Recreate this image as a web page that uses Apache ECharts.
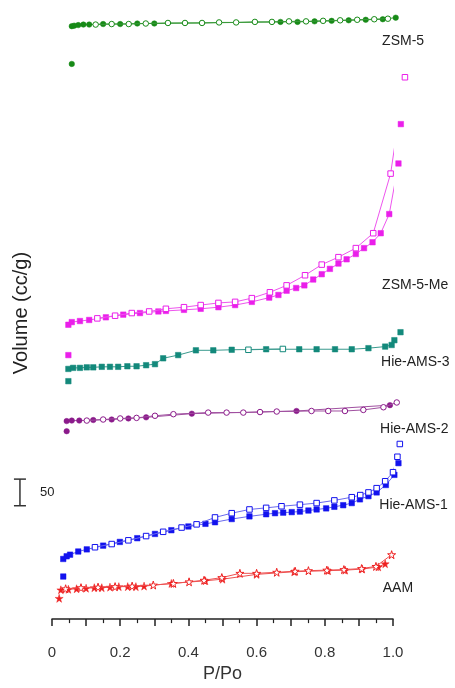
<!DOCTYPE html>
<html>
<head>
<meta charset="utf-8">
<script src="https://cdn.jsdelivr.net/npm/echarts@6/dist/echarts.min.js"></script>
<style>html,body{margin:0;padding:0;background:#fff}#c{width:455px;height:688px}</style>
</head>
<body>
<div id="c"></div>
<script>
// ---- data (P/Po, offset volume cc/g); first adsorption point of each sample is the isolated low-pressure point ----
const zsm5Ads = [[0.058,1043],[0.058,1114],[0.065,1115],[0.077,1116],[0.092,1117],[0.109,1117],[0.15,1118],[0.2,1118],[0.25,1119],[0.3,1119],[0.67,1122],[0.72,1122],[0.77,1123],[0.82,1124],[0.87,1125],[0.92,1126],[0.97,1127],[1.008,1130]];
const zsm5Des = [[0.985,1128],[0.945,1127],[0.895,1126],[0.845,1125],[0.795,1124],[0.745,1123],[0.695,1123],[0.645,1122],[0.595,1122],[0.54,1121],[0.49,1121],[0.44,1120],[0.39,1120],[0.34,1120],[0.275,1119],[0.225,1118],[0.175,1118],[0.128,1117]];
const meAds = [[0.048,496],[0.048,553],[0.058,558],[0.082,560],[0.109,562],[0.158,567],[0.209,572],[0.258,575],[0.312,578],[0.334,579],[0.387,581],[0.436,583],[0.488,586],[0.537,590],[0.586,596],[0.637,604],[0.664,609],[0.688,617],[0.716,622],[0.74,627],[0.766,638],[0.791,648],[0.815,658],[0.84,668],[0.864,676],[0.891,686],[0.915,697],[0.94,708],[0.964,725],[0.989,761],[1.016,856],[1.023,930]];
const meDes = [[1.035,1018],[0.993,837],[0.942,725],[0.891,697],[0.84,680],[0.791,666],[0.742,646],[0.688,627],[0.639,614],[0.586,603],[0.537,596],[0.488,594],[0.436,590],[0.387,586],[0.334,583],[0.285,578],[0.234,575],[0.185,570],[0.133,565]];
const ams3Ads = [[0.048,447],[0.048,470],[0.062,472],[0.082,472],[0.102,473],[0.121,473],[0.146,474],[0.17,474],[0.194,474],[0.221,475],[0.248,475],[0.276,477],[0.302,479],[0.326,490],[0.37,496],[0.422,505],[0.473,505],[0.527,506],[0.628,507],[0.725,507],[0.776,507],[0.83,507],[0.879,507],[0.928,509],[0.977,512],[0.996,515],[1.004,524],[1.022,539]];
const ams3Des = [[0.677,507.5],[0.576,506]];
const ams2Ads = [[0.043,353],[0.043,372],[0.058,373],[0.08,373],[0.121,374],[0.175,375],[0.224,377],[0.276,379],[0.41,386],[0.717,391],[0.991,402]];
const ams2Des = [[1.011,407],[0.972,398],[0.913,393],[0.859,391],[0.81,391],[0.761,391],[0.659,390],[0.61,389],[0.561,388],[0.512,388],[0.458,388],[0.356,385],[0.302,382],[0.248,378],[0.2,377],[0.15,375],[0.102,373]];
const ams1Ads = [[0.033,80],[0.033,113],[0.043,118],[0.053,121],[0.077,127],[0.102,131],[0.15,138],[0.199,145],[0.25,152],[0.302,160],[0.35,167],[0.40,174],[0.45,179],[0.478,182],[0.527,188],[0.579,193],[0.628,197],[0.654,199],[0.678,200],[0.703,201],[0.727,202],[0.752,204],[0.776,206],[0.804,208],[0.828,211],[0.854,214],[0.879,218],[0.903,225],[0.928,231],[0.952,238],[0.979,252],[1.004,271],[1.016,293]];
const ams1Des = [[1.02,329],[1.013,305],[1.0,276],[0.977,259],[0.952,246],[0.928,238],[0.904,233],[0.879,229],[0.828,223],[0.776,218],[0.727,215],[0.673,212],[0.628,209],[0.579,206],[0.527,199],[0.478,191],[0.424,178],[0.38,172],[0.326,164],[0.276,156],[0.224,148],[0.175,141],[0.126,135]];
const aamAds = [[0.021,39],[0.026,55],[0.048,56],[0.072,57],[0.10,58],[0.124,59],[0.146,59],[0.17,60],[0.196,61],[0.222,61],[0.246,61],[0.27,62],[0.35,67],[0.45,72],[0.50,75],[0.60,84],[0.71,89],[0.81,91],[0.86,92],[0.91,94],[0.957,98],[0.977,104]];
const aamDes = [[0.996,121],[0.95,99],[0.908,95],[0.856,93],[0.806,92],[0.752,91],[0.713,90],[0.659,88],[0.60,86],[0.551,86],[0.498,78],[0.446,73],[0.402,70],[0.356,67],[0.297,64],[0.235,62],[0.185,61],[0.135,60],[0.085,59],[0.04,57]];
const sampleNames = ['ZSM-5','ZSM-5-Me','Hie-AMS-3','Hie-AMS-2','Hie-AMS-1','AAM'];
const xTicks = [0,0.2,0.4,0.6,0.8,1.0];
const scaleBarValue = 50;

// ---- styles / layout ----
const STAR = 'path://M50,0 L61,35 L98,35 L68,57 L79,91 L50,70 L21,91 L32,57 L2,35 L39,35 Z';
const sets = [
  {ads: zsm5Ads, des: zsm5Des, color:'#178a17', line:'#3a9a3a', sym:'circle', size:5.5},
  {ads: meAds, des: meDes, color:'#ea1fea', line:'#ee55ee', sym:'rect', size:5.5},
  {ads: ams3Ads, des: ams3Des, color:'#13897b', line:'#3a9a8e', sym:'rect', size:5.5},
  {ads: ams2Ads, des: ams2Des, color:'#8b1a8b', line:'#a050a0', sym:'circle', size:5.5},
  {ads: ams1Ads, des: ams1Des, color:'#1212ee', line:'#6a6aee', sym:'rect', size:5.5},
  {ads: aamAds, des: aamDes, color:'#ee2020', line:'#ee5050', sym:STAR, size:8}
];
const labelPos = [[0.968,1085],[0.968,628],[0.965,483],[0.962,357],[0.96,215],[0.97,59]];
const scaleBarAt = [-0.094, 213];

const series = [];
sets.forEach((s, i) => {
  series.push({
    name: sampleNames[i] + ' first', type:'scatter', data: s.ads.slice(0,1), clip:false,
    symbol: s.sym, symbolSize: s.size,
    itemStyle:{color:s.color, borderColor:s.color, borderWidth:0.5, opacity:1}, z:3
  });
  series.push({
    name: sampleNames[i] + ' ads', type:'line', data: s.ads.slice(1), clip:false,
    symbol: s.sym, symbolSize: s.size, showAllSymbol:true,
    lineStyle:{color:s.line, width:1},
    itemStyle:{color:s.color, borderColor:s.color, borderWidth:0.5},
    z: 3
  });
  series.push({
    name: sampleNames[i] + ' des', type:'line', data: s.des, clip:false,
    symbol: s.sym, symbolSize: s.size, showAllSymbol:true,
    lineStyle:{color:s.line, width:1},
    itemStyle:{color:'#ffffff', borderColor:s.color, borderWidth:1},
    z: 4
  });
});

const chart = echarts.init(document.getElementById('c'));
chart.setOption({
  animation:false,
  backgroundColor:'#fff',
  textStyle:{fontFamily:'Liberation Sans, Arial, sans-serif'},
  grid:{left:52, right:62, top:7, bottom:60},
  xAxis:{
    type:'value', min:0, max:1, interval:0.1,
    axisLine:{lineStyle:{color:'#222', width:1.5}},
    axisTick:{length:7, lineStyle:{color:'#222', width:1.5}},
    minorTick:{show:true, splitNumber:2, length:4, lineStyle:{color:'#222', width:1.2}},
    splitLine:{show:false},
    axisLabel:{margin:26, fontSize:15, color:'#333',
      formatter: v => { const m = xTicks.find(t => Math.abs(t - v) < 1e-6); return m === undefined ? '' : (m === 0 ? '0' : m.toFixed(1)); }},
    name:'P/Po', nameLocation:'middle', nameGap:42,
    nameTextStyle:{fontSize:18, color:'#333'}
  },
  yAxis:{type:'value', min:0, max:1150, show:false},
  series: series
});

// labels and scale bar placed through the chart's coordinate system
const g = [];
sampleNames.forEach((n, i) => {
  const p = chart.convertToPixel({gridIndex:0}, labelPos[i]);
  g.push({type:'text', x:p[0], y:p[1], style:{text:n, fill:'#222', font:'14px Liberation Sans, Arial, sans-serif', textVerticalAlign:'middle', textAlign:'left'}});
});
const b0 = chart.convertToPixel({gridIndex:0}, scaleBarAt);
const b1 = chart.convertToPixel({gridIndex:0}, [scaleBarAt[0], scaleBarAt[1] + scaleBarValue]);
const st = {stroke:'#333', lineWidth:1.5};
g.push({type:'line', shape:{x1:b0[0], y1:b0[1], x2:b1[0], y2:b1[1]}, style:st});
g.push({type:'line', shape:{x1:b0[0]-6, y1:b0[1], x2:b0[0]+6, y2:b0[1]}, style:st});
g.push({type:'line', shape:{x1:b1[0]-6, y1:b1[1], x2:b1[0]+6, y2:b1[1]}, style:st});
g.push({type:'text', x:b0[0]+20, y:(b0[1]+b1[1])/2, style:{text:String(scaleBarValue), fill:'#222', font:'13px Liberation Sans, Arial, sans-serif', textVerticalAlign:'middle'}});
const mid = chart.convertToPixel({gridIndex:0}, [0, 575]);
g.push({type:'text', x:21, y:mid[1], rotation:Math.PI/2, style:{text:'Volume (cc/g)', fill:'#222', font:'20px Liberation Sans, Arial, sans-serif', textAlign:'center', textVerticalAlign:'middle'}});
chart.setOption({graphic:g});
</script>
</body>
</html>
